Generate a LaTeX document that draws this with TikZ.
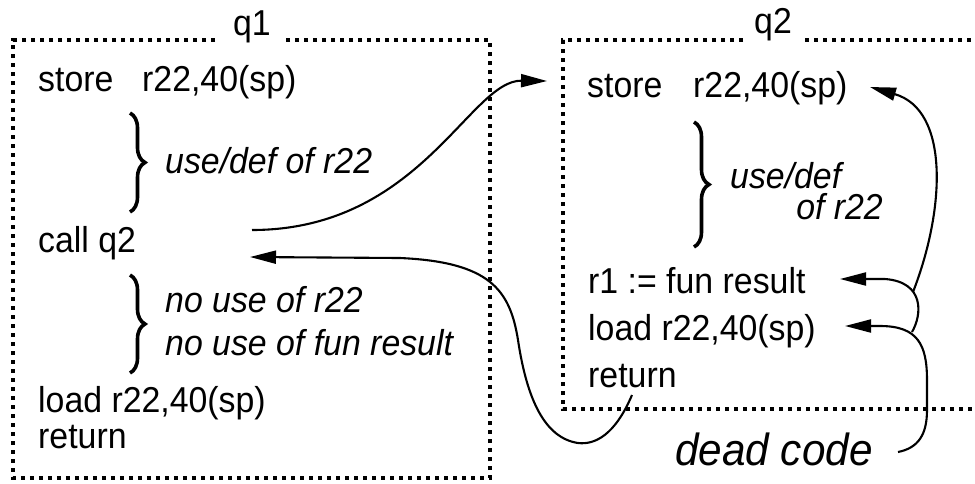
\documentclass[tikz,border=0pt]{standalone}
\usepackage{fontspec}
\setmainfont{Liberation Sans}[FakeStretch=0.94]
\usetikzlibrary{arrows.meta,decorations.pathreplacing}
\begin{document}
\begin{tikzpicture}[x=1pt,y=-1pt,
  txt/.style={anchor=base west,inner sep=0pt,font=\fontsize{36}{40}\selectfont},
  itxt/.style={txt,font=\fontsize{36}{40}\selectfont\itshape},
  lbl/.style={anchor=base,inner sep=0pt,font=\fontsize{36}{40}\selectfont},
  boxline/.style={line width=4.4pt,dash pattern=on 4.4pt off 4.6pt},
  bracedeco/.style={line width=3.6pt,decorate,decoration={brace,amplitude=15pt}},
  conn/.style={line width=2.1pt,-{Triangle[length=26pt,width=13pt]}}]
\useasboundingbox (0,0) rectangle (975,483);
% boxes
\draw[boxline] (215,40) -- (13,40) -- (13,478) -- (490,478) -- (490,40) -- (283,40);
\draw[boxline] (743,40) -- (563,40) -- (563,409) -- (975,409);
\draw[boxline] (805,40) -- (975,40);
\node[lbl] (q1) at (252,35) {q1};
\node[lbl] (q2) at (773,33) {q2};
% q1 text
\node[txt] (q1store) at (38,91) {\makebox[104pt][l]{store}r22,40(sp)};
\node[itxt] (q1use) at (165,173) {use/def of r22};
\node[txt] (q1call) at (38,252) {call q2};
\node[itxt] (q1no1) at (165,312) {no use of r22};
\node[itxt] (q1no2) at (165,355) {no use of fun result};
\node[txt] (q1load) at (38,412) {load r22,40(sp)};
\node[txt] (q1ret) at (38,448) {return};
\draw[bracedeco] (130,113) -- (130,212);
\draw[bracedeco] (130,275) -- (130,373);
% q2 text
\node[txt] (q2store) at (587,97) {\makebox[106pt][l]{store}r22,40(sp)};
\node[itxt] (q2use) at (730,188) {use/def};
\node[itxt,anchor=base east] (q2of) at (883,219) {of r22};
\node[txt] (q2r1) at (588,293) {r1 := fun result};
\node[txt] (q2load) at (588,340) {load r22,40(sp)};
\node[txt] (q2ret) at (588,387) {return};
\draw[bracedeco] (694,122) -- (694,247);
\node[itxt,font=\fontsize{45}{48}\selectfont\itshape] (dead) at (675,465) {dead code};
% connector points
\coordinate (callout) at (252,230);
\coordinate (q2in) at (547,81);
\coordinate (retout) at (632,395);
\coordinate (callin) at (250,257);
\coordinate (junA) at (913,292);
\coordinate (storein) at (870,87);
\coordinate (junB) at (912,332);
\coordinate (r1in) at (840,279);
\coordinate (deadout) at (898,452);
\coordinate (loadin) at (845,326);
% connectors
\draw[conn] (callout) .. controls (420,230) and (470,80) .. (q2in);
\draw[conn] (retout) .. controls (615,435) and (595,445) .. (578,443)
  .. controls (545,438) and (527,400) .. (518,340)
  .. controls (510,290) and (490,262) .. (400,258) -- (callin);
\draw[conn] (junA) .. controls (945,210) and (950,110) .. (storein);
\draw[conn] (junB) .. controls (922,315) and (925,282) .. (885,279) -- (r1in);
\draw[conn] (deadout) .. controls (918,448) and (927,435) .. (927,410) -- (927,380)
  .. controls (927,345) and (918,326) .. (880,326) -- (loadin);
\end{tikzpicture}
\end{document}
